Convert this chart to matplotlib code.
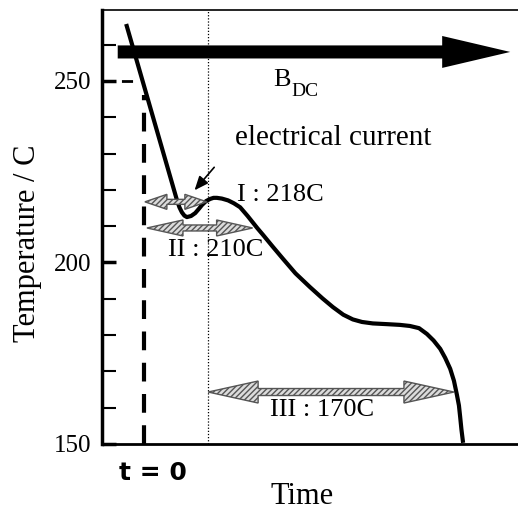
import matplotlib
matplotlib.use("Agg")
import matplotlib.pyplot as plt
import numpy as np
from matplotlib.patches import Polygon, FancyArrowPatch

# temperature profile (time in arbitrary units, T in C)
time = [0.58, 1.80, 1.86, 1.92, 1.98, 2.04, 2.14,
        2.24, 2.33, 2.40, 2.50, 2.60, 2.68, 2.76, 2.88, 3.03, 3.17, 3.32,
        3.50, 3.73, 3.87, 4.10, 4.35, 4.65, 5.00, 5.30, 5.55, 5.80, 6.03,
        6.25, 6.51, 6.85, 7.16, 7.40, 7.62, 7.81, 7.97, 8.13, 8.25, 8.37,
        8.46, 8.53, 8.58, 8.61, 8.64, 8.68]
temp = [265.7, 217.2, 215.2, 213.8, 212.9, 212.5,
        212.8, 213.6, 214.8, 215.8, 216.9, 217.5, 217.8, 217.8, 217.6, 217.1,
        216.3, 215.2, 212.8, 209.5, 207.6, 204.4, 201.0, 197.0, 193.2, 190.1,
        187.7, 185.6, 184.3, 183.6, 183.2, 183.0, 182.8, 182.5, 181.9, 180.3,
        178.5, 176.2, 173.7, 170.7, 167.4, 163.6, 160.6, 157.4, 154.0, 150.3]

t0 = 1.01          # start of current
t_dot = 2.55       # dotted reference
# hatched double arrows: (x start, x end, T level, head length px, head height px, shaft px)
ranges = [(1.03, 2.52, 216.7, 22, 15, 5),
          (1.08, 3.62, 209.5, 36, 16, 6),
          (2.55, 8.46, 164.3, 50, 22, 7)]
labels = ["I : 218C", "II : 210C", "III : 170C"]
label_pos = [(3.25, 218.6), (1.59, 203.4), (4.04, 159.4)]
yticks = [150, 200, 250]

plt.rcParams["hatch.color"] = "#777777"
fig = plt.figure(figsize=(5.18, 5.18), dpi=100)
ax = fig.add_axes([0.197, 0.143, 0.803, 0.838])
ax.set_xlim(0, 10)
ax.set_ylim(150, 269.6)

serif = "Liberation Serif"

ax.plot(time, temp, color="black", lw=3, solid_capstyle="butt",
        solid_joinstyle="round", zorder=5)

# t = 0 dashed lines
ax.plot([0, 0.95], [250, 250], color="black", lw=2, ls=(0, (4, 3)))
ax.plot([t0, t0], [150, 246], color="black", lw=3, ls=(0, (4.5, 3)))
ax.axvline(t_dot, color="black", lw=0.9, ls=(0, (1, 1.5)))

# big B_DC arrow
big = FancyArrowPatch((0.31, 258), (9.88, 258),
                      arrowstyle="simple,head_length=49,head_width=23,tail_width=9.4",
                      mutation_scale=1, fc="black", ec="black", lw=0, zorder=6)
ax.add_patch(big)

# hatched double arrows, built in pixels around data anchors
fig.canvas.draw()
for x1, x2, y, hl, hh, sw in ranges:
    (px1, py), (px2, _) = ax.transData.transform([(x1, y), (x2, y)])
    pts = [(px1, py),
           (px1 + hl, py + hh / 2),
           (px1 + hl, py + sw / 2),
           (px2 - hl, py + sw / 2),
           (px2 - hl, py + hh / 2),
           (px2, py),
           (px2 - hl, py - hh / 2),
           (px2 - hl, py - sw / 2),
           (px1 + hl, py - sw / 2),
           (px1 + hl, py - hh / 2)]
    poly = Polygon(pts, closed=True, transform=None, fc="#dcdcdc",
                   ec="#555555", lw=1, hatch="//////", zorder=4)
    fig.add_artist(poly)

for txt, (x, y) in zip(labels, label_pos):
    ax.text(x, y, txt, fontsize=19, family=serif, va="center", ha="left",
            zorder=7)

ax.text(4.11, 250.3, "B", fontsize=19, family=serif, va="center")
ax.text(4.55, 247.0, "DC", fontsize=14, family=serif, va="center")
ax.text(3.20, 234.3, "electrical current", fontsize=21, family=serif,
        va="center")
ax.annotate("", xy=(2.18, 219.3), xytext=(2.74, 226.8),
            arrowprops=dict(arrowstyle="-|>,head_length=0.6,head_width=0.25",
                            color="black", lw=1.2, mutation_scale=14))

ax.text(1.23, -0.067, "t = 0", transform=ax.get_xaxis_transform(),
        fontsize=18, family="DejaVu Sans", fontweight="bold",
        ha="center", va="center")
ax.text(4.8, -0.122, "Time", transform=ax.get_xaxis_transform(),
        fontsize=22, family=serif, ha="center", va="center")
ax.text(-0.18, 0.463, "Temperature / C", transform=ax.transAxes,
        fontsize=22, family=serif, rotation=90, ha="center", va="center")

ax.set_yticks(yticks)
ax.set_yticks(np.arange(150, 261, 10), minor=True)
ax.set_yticklabels([str(v) for v in yticks], family=serif, fontsize=18)
ax.tick_params(axis="y", which="both", direction="in", length=10, pad=8)
ax.tick_params(axis="y", which="major", width=2.5)
ax.tick_params(axis="y", which="minor", width=1.5)
ax.set_xticks([])

ax.spines["right"].set_visible(False)
ax.spines["left"].set_linewidth(2.5)
ax.spines["bottom"].set_linewidth(2)
ax.spines["top"].set_linewidth(1.2)

fig.savefig("out.png", dpi=100)
